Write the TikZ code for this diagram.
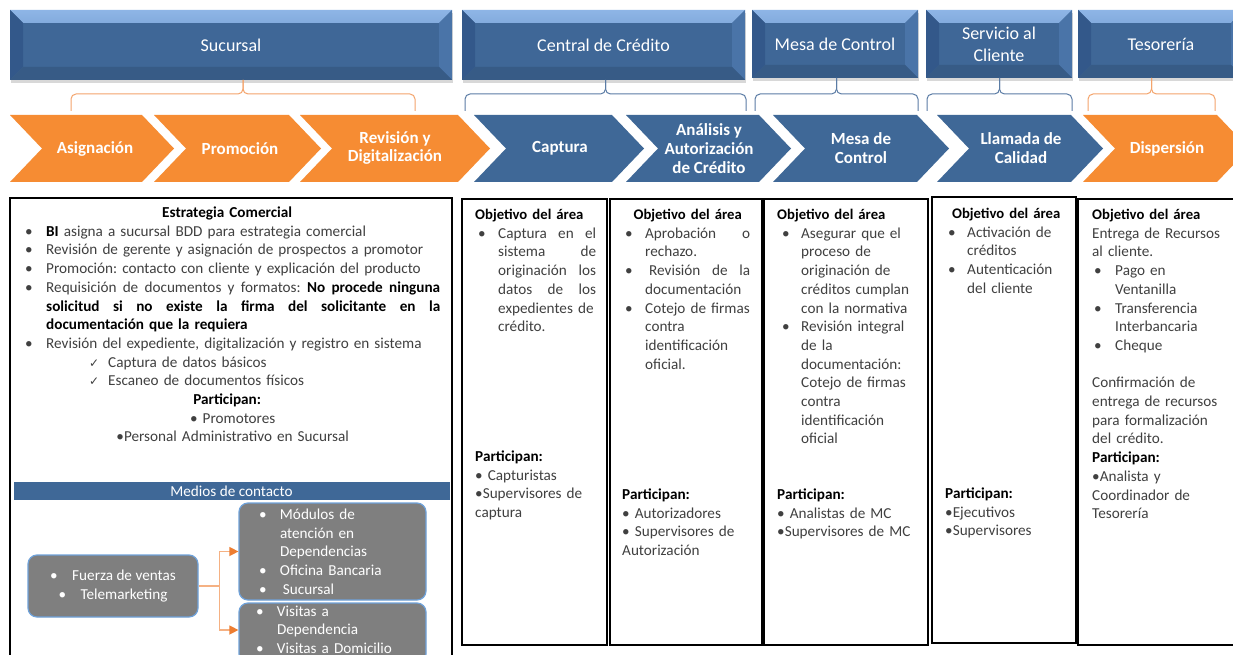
\documentclass[tikz,border=0pt]{standalone}
\usepackage{fontspec}
\setmainfont{Carlito}
\newfontfamily\chkfont{DejaVu Sans}
\usepackage{xcolor}
\definecolor{colorHeader}{HTML}{3F6797}
\definecolor{colorBevelHi}{HTML}{8EB5E6}
\definecolor{colorBevelTop}{HTML}{5581B8}
\definecolor{colorBevelLeft}{HTML}{33588A}
\definecolor{colorBevelRight}{HTML}{4A74A8}
\definecolor{colorBevelBottom}{HTML}{375B86}
\definecolor{colorStepBlue}{HTML}{3F6897}
\definecolor{colorStepOrange}{HTML}{F68C33}
\definecolor{colorBraceBlue}{HTML}{5B7CA5}
\definecolor{colorBraceOrange}{HTML}{F4A46C}
\definecolor{colorBody}{HTML}{404040}
\definecolor{colorMedia}{HTML}{7F7F7F}
\definecolor{colorMediaEdge}{HTML}{6FA2DA}
\definecolor{colorLink}{HTML}{F5B183}
\definecolor{colorLinkTip}{HTML}{ED7D31}
\usepackage{tikz}
\usetikzlibrary{arrows.meta, positioning, shadows}
\tikzset{txt/.style={anchor=base west, inner sep=0pt, font=\bodyfont, text=colorBody, text width=#1}}

\newcommand{\bodyfont}{\fontsize{15.2}{18.7}\selectfont\frenchspacing}
\newcommand{\hdrfont}{\fontsize{18}{22}\selectfont}
\newcommand{\stepfont}{\fontsize{17}{18.7}\selectfont\bfseries}
\newlength{\bhang}
\newlength{\bpre}
\newcommand{\fitm}{\hangindent=\bhang\hangafter=1\noindent\makebox[\bhang][l]{\hspace*{\bpre}\textbullet}}
\newcommand{\itm}{\par\fitm}
\newcommand{\bld}[1]{{\leavevmode\color{black}\bfseries #1}}
\newcommand{\objtitle}{\bld{\fontsize{14.7}{18.7}\selectfont Objetivo del área}}
\newcommand{\chk}{{\chkfont\fontsize{12}{12}\selectfont ✓}}

\begin{document}
\begin{tikzpicture}[x=1pt, y=-1pt,
  hdr/.style={fill=colorHeader, text=white, font=\hdrfont, align=center, inner sep=0pt,
    drop shadow={shadow xshift=0.5pt, shadow yshift=-3.5pt, opacity=.3},
    path picture={
      \shade[top color=colorBevelHi, bottom color=colorBevelTop]
        (path picture bounding box.north west) -- (path picture bounding box.north east)
        -- ([xshift=-13pt,yshift=-13pt]path picture bounding box.north east)
        -- ([xshift=13pt,yshift=-13pt]path picture bounding box.north west) -- cycle;
      \fill[colorBevelLeft] (path picture bounding box.north west)
        -- ([xshift=13pt,yshift=-13pt]path picture bounding box.north west)
        -- ([xshift=13pt,yshift=13pt]path picture bounding box.south west)
        -- (path picture bounding box.south west) -- cycle;
      \fill[colorBevelRight] (path picture bounding box.north east)
        -- ([xshift=-13pt,yshift=-13pt]path picture bounding box.north east)
        -- ([xshift=-13pt,yshift=13pt]path picture bounding box.south east)
        -- (path picture bounding box.south east) -- cycle;
      \fill[colorBevelBottom] (path picture bounding box.south west)
        -- ([xshift=13pt,yshift=13pt]path picture bounding box.south west)
        -- ([xshift=-13pt,yshift=13pt]path picture bounding box.south east)
        -- (path picture bounding box.south east) -- cycle;
    }},
  steplabel/.style={text=white, font=\stepfont, align=center, inner sep=0pt},
  braceOrange/.style={colorBraceOrange, line width=1pt, rounded corners=5pt},
  braceBlue/.style={colorBraceBlue, line width=1pt, rounded corners=5pt},
  box/.style={draw=black, line width=1.4pt, inner sep=0pt},
  media/.style={fill=colorMedia, draw=colorMediaEdge, line width=1.2pt, rounded corners=9pt,
    text=white, font=\bodyfont, inner sep=0pt},
  link/.style={colorLink, line width=1.3pt, -{Triangle[length=9pt, width=9pt, color=colorLinkTip]}}]
\useasboundingbox (0,0) rectangle (1233,655);
\clip (0,0) rectangle (1233,655);
\fill[white] (0,0) rectangle (1233,655);

% areas
\node[hdr, minimum width=442pt, minimum height=70pt] (h0) at (231,45) {Sucursal};
\node[hdr, minimum width=283pt, minimum height=70pt] (h1) at (603.5,45) {Central de Crédito};
\node[hdr, minimum width=166pt, minimum height=68pt] (h2) at (835,44) {Mesa de Control};
\node[hdr, minimum width=146pt, minimum height=68pt] (h3) at (999,44) {Servicio al\\Cliente};
\node[hdr, minimum width=166pt, minimum height=68pt] (h4) at (1161,44) {Tesorería};

% braces
\draw[braceOrange] (71,111) -- (71,94) -- (243,94) -- (243,80);
\draw[braceOrange] (415,111) -- (415,94) -- (243,94) -- (243,80);
\draw[braceBlue] (465,111) -- (465,94) -- (605.5,94) -- (605.5,80);
\draw[braceBlue] (746,111) -- (746,94) -- (605.5,94) -- (605.5,80);
\draw[braceBlue] (755,111) -- (755,94) -- (836.5,94) -- (836.5,78);
\draw[braceBlue] (918,111) -- (918,94) -- (836.5,94) -- (836.5,78);
\draw[braceBlue] (927,111) -- (927,94) -- (999.5,94) -- (999.5,78);
\draw[braceBlue] (1072,111) -- (1072,94) -- (999.5,94) -- (999.5,78);
\draw[braceOrange] (1088,111) -- (1088,94) -- (1151.5,94) -- (1151.5,78);
\draw[braceOrange] (1215,111) -- (1215,94) -- (1151.5,94) -- (1151.5,78);

% steps
\fill[colorStepOrange] (10,115) -- (142,115) -- (174,148.5) -- (142,182) -- (10,182) -- (42,148.5) -- cycle;
\fill[colorStepOrange] (154,115) -- (289,115) -- (321,148.5) -- (289,182) -- (154,182) -- (186,148.5) -- cycle;
\fill[colorStepOrange] (300,115) -- (458,115) -- (490,148.5) -- (458,182) -- (300,182) -- (332,148.5) -- cycle;
\fill[colorStepBlue] (474,115) -- (612,115) -- (644,148.5) -- (612,182) -- (474,182) -- (506,148.5) -- cycle;
\fill[colorStepBlue] (626,115) -- (759,115) -- (791,148.5) -- (759,182) -- (626,182) -- (658,148.5) -- cycle;
\fill[colorStepBlue] (773,115) -- (917,115) -- (949,148.5) -- (917,182) -- (773,182) -- (805,148.5) -- cycle;
\fill[colorStepBlue] (937,115) -- (1071,115) -- (1103,148.5) -- (1071,182) -- (937,182) -- (969,148.5) -- cycle;
\fill[colorStepOrange] (1083,115) -- (1217,115) -- (1249,148.5) -- (1217,182) -- (1083,182) -- (1115,148.5) -- cycle;
\node[steplabel] (c0) at (95,148.5) {Asignación};
\node[steplabel] (c1) at (240,148.5) {Promoción};
\node[steplabel] (c2) at (395,148) {Revisión y\\Digitalización};
\node[steplabel] (c3) at (560,148.5) {Captura};
\node[steplabel] (c4) at (709,148.5) {Análisis y\\Autorización\\de Crédito};
\node[steplabel] (c5) at (861,148) {Mesa de\\Control};
\node[steplabel] (c6) at (1021,148) {Llamada de\\Calidad};
\node[steplabel] (c7) at (1167,148.5) {Dispersión};

% boxes
\node[box, minimum width=442pt, minimum height=472pt] (b0) at (231,434) {};
\node[box, minimum width=145pt, minimum height=446pt] (b1) at (534.5,422) {};
\node[box, minimum width=152pt, minimum height=446pt] (b2) at (686,422) {};
\node[box, minimum width=164pt, minimum height=446pt] (b3) at (846,422) {};
\node[box, minimum width=144pt, minimum height=446pt] (b4) at (1004,420) {};
\node[box, minimum width=167pt, minimum height=446pt] (b5) at (1161.5,422) {};

\node[txt=415pt] (o0) at (25,217.5) {\setlength{\bhang}{21pt}\setlength{\bpre}{0pt}%
{\centering\bld{Estrategia Comercial}\hspace*{11pt}\par}%
\itm \bld{BI} asigna a sucursal BDD para estrategia comercial
\itm Revisión de gerente y asignación de prospectos a promotor
\itm Promoción: contacto con cliente y explicación del producto
\itm Requisición\hfill de\hfill documentos\hfill y\hfill formatos:\hfill \bld{No\hfill procede\hfill ninguna}\newline
\bld{solicitud\hfill si\hfill no\hfill existe\hfill la\hfill firma\hfill del\hfill solicitante\hfill en\hfill la}\newline
\bld{documentación que la requiera}
\itm Revisión del expediente, digitalización y registro en sistema
\par\noindent\hspace*{64pt}\makebox[19pt][l]{\chk}Captura de datos básicos
\par\noindent\hspace*{64pt}\makebox[19pt][l]{\chk}Escaneo de documentos físicos
\par{\centering\bld{Participan:}\hspace*{11pt}\par}
{\centering\textbullet\ Promotores\par}
{\centering\textbullet Personal Administrativo en Sucursal\par}};

\node[txt=121pt] (o1) at (475,219.5) {\setlength{\bhang}{23pt}\setlength{\bpre}{3pt}%
\objtitle
\itm Captura\hfill en\hfill el\newline sistema\hfill de\newline originación\hfill los\newline
datos\hfill de\hfill los\newline expedientes~de\newline crédito.\par};
\node[txt=130pt] (p1) at (475,461.5) {\bld{Participan:}\newline \textbullet\ Capturistas\newline \textbullet Supervisores de\newline captura};

\node[txt=125pt] (o2) at (625,219.5) {\setlength{\bhang}{20pt}\setlength{\bpre}{0pt}%
{\centering\objtitle\par}%
\itm Aprobación\hfill o\newline rechazo.
\itm \hspace*{4pt}Revisión\hfill de\hfill la\newline documentación
\itm Cotejo~de~firmas\newline contra\newline identificación\newline oficial.\par};
\node[txt=135pt] (p2) at (622,499.5) {\bld{Participan:}\newline \textbullet\ Autorizadores\newline \textbullet\ Supervisores de\newline Autorización};

\node[txt=140pt] (o3) at (777,219.5) {\setlength{\bhang}{24pt}\setlength{\bpre}{5pt}%
\objtitle
\itm Asegurar que el\newline proceso de\newline originación de\newline créditos~cumplan\newline con la normativa
\itm Revisión integral\newline de la\newline documentación:\newline Cotejo de firmas\newline contra\newline identificación\newline oficial\par};
\node[txt=145pt] (p3) at (777,499.5) {\bld{Participan:}\newline \textbullet\ Analistas de MC\newline \textbullet Supervisores de MC};

\node[txt=122pt] (o4) at (945,218.5) {\setlength{\bhang}{22pt}\setlength{\bpre}{3pt}%
{\centering\objtitle\par}%
\itm Activación de\newline créditos
\itm Autenticación\newline del cliente\par};
\node[txt=125pt] (p4) at (945,498.5) {\bld{Participan:}\newline \textbullet Ejecutivos\newline \textbullet Supervisores};

\node[txt=140pt] (o5) at (1092,219.5) {\setlength{\bhang}{23pt}\setlength{\bpre}{2pt}%
\objtitle\newline Entrega de Recursos\newline al cliente.
\itm Pago en\newline Ventanilla
\itm Transferencia\newline Interbancaria
\itm Cheque
\par\mbox{}\par
Confirmación de\newline entrega de recursos\newline para formalización\newline del crédito.\newline
\bld{Participan:}\newline \textbullet Analista y\newline Coordinador de\newline Tesorería};

% medios de contacto
\node[fill=colorStepBlue, text=white, font=\bodyfont, minimum width=436pt, minimum height=18pt, inner sep=0pt] (mb) at (231.5,491) {Medios de contacto};
\node[media, minimum width=170pt, minimum height=62pt, align=center] (g1) at (113,586)
  {\makebox[22pt][l]{\textbullet}Fuerza de ventas\\\makebox[22pt][l]{\textbullet}Telemarketing};
\node[media, minimum width=187pt, minimum height=97pt, text width=147pt] (g2) at (332.5,551.5)
  {\setlength{\bhang}{21pt}\setlength{\bpre}{0pt}\fitm Módulos de\newline atención en\newline Dependencias\itm Oficina Bancaria\itm \hspace*{3pt}Sucursal\par};
\node[media, minimum width=187pt, minimum height=60pt, text width=153pt, text depth=44pt] (g3) at (332.5,633)
  {\setlength{\bhang}{21pt}\setlength{\bpre}{0pt}\fitm Visitas a\newline Dependencia\itm Visitas a Domicilio\par};
\draw[link] (g1.east) -- ++(21pt,0) coordinate (fork) |- (g2.west);
\draw[link] (fork) |- ([yshift=3pt]g3.west);
\end{tikzpicture}
\end{document}
